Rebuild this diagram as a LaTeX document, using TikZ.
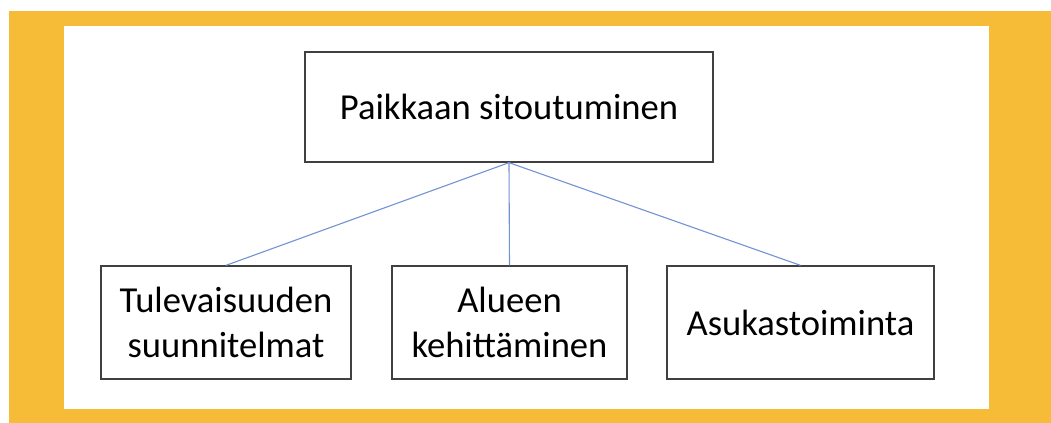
\documentclass[tikz,border=0pt]{standalone}
\usepackage{fontspec}
\setmainfont{Carlito}
\definecolor{kehys}{RGB}{246,187,55}
\definecolor{viiva}{RGB}{114,147,212}

\begin{document}
\begin{tikzpicture}[x=0.5pt,y=-0.5pt,
  laatikko/.style={draw=black!75,line width=0.65pt,minimum height=56.5pt,align=center,inner sep=0pt,font=\fontsize{18.3}{22.5}\selectfont},
  yhteys/.style={draw=viiva,line width=0.55pt}]
\useasboundingbox (0,0) rectangle (1051,423);
\fill[kehys] (9,11) rectangle (1051,423);
\fill[white] (64,26) rectangle (989,409);
\node[laatikko,minimum width=204pt,minimum height=55pt] (paikka) at (509,107) {Paikkaan sitoutuminen};
\node[laatikko,minimum width=125pt] (tulevaisuus) at (226,322.5) {Tulevaisuuden\\suunnitelmat};
\node[laatikko,minimum width=117.5pt] (alue) at (509.5,322.5) {Alueen\\kehittäminen};
\node[laatikko,minimum width=133.5pt] (asukas) at (800.5,322.5) {Asukastoiminta};
\draw[yhteys] (paikka.south) -- (tulevaisuus.north);
\draw[yhteys] (paikka.south) -- (alue.north);
\draw[yhteys] (paikka.south) -- (asukas.north);
\end{tikzpicture}
\end{document}
